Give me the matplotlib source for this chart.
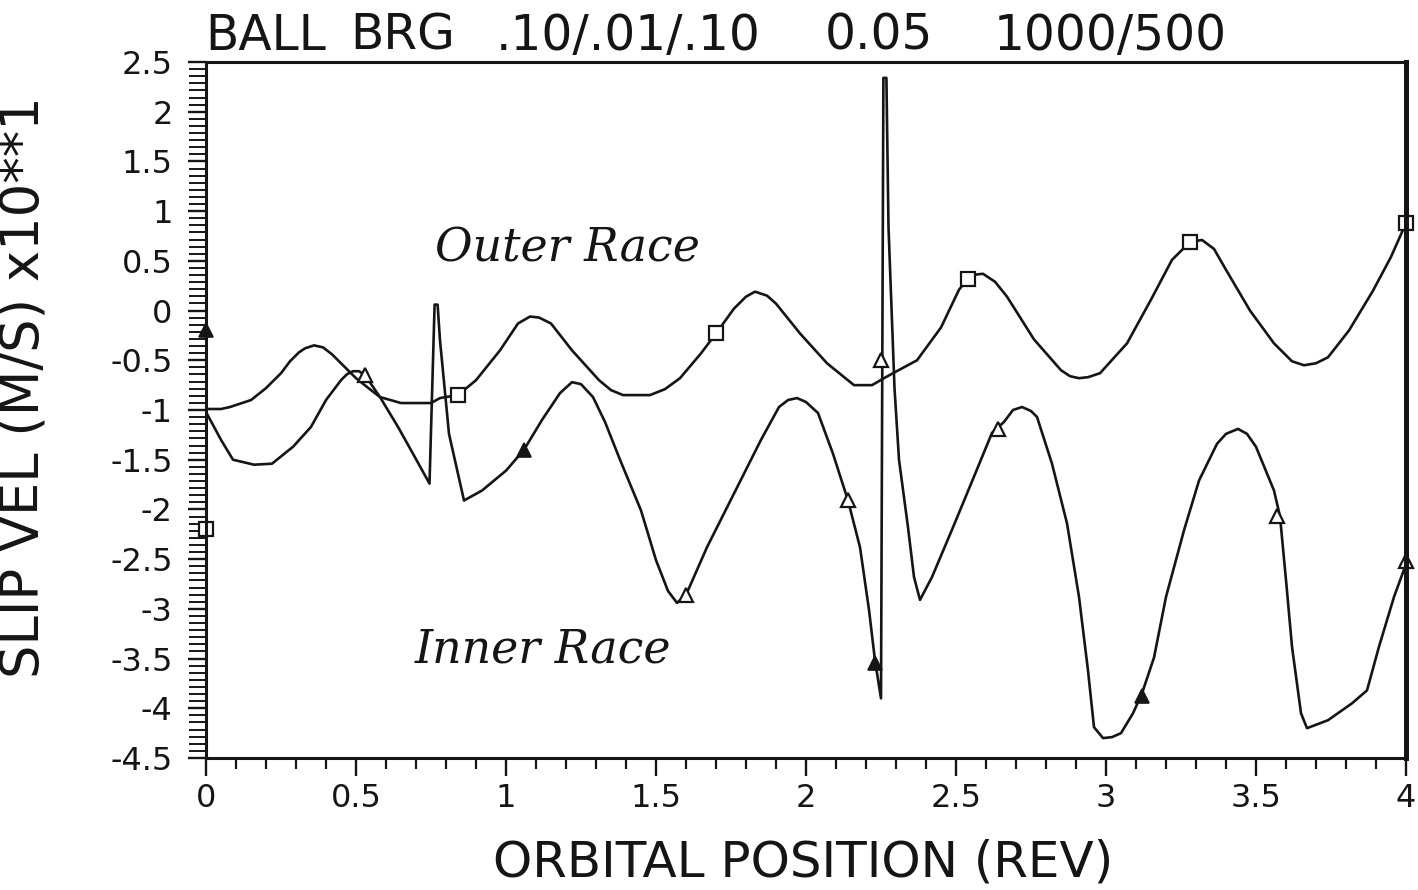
import matplotlib
matplotlib.use("Agg")
import matplotlib.pyplot as plt
from matplotlib.ticker import MultipleLocator, FuncFormatter

plt.rcParams['font.family'] = ['DejaVu Sans']
plt.rcParams['axes.unicode_minus'] = False

# Outer race slip velocity vs orbital position
outer_x = [0.00, 0.05, 0.08, 0.15, 0.20, 0.25, 0.28, 0.31, 0.33, 0.36, 0.39, 0.42,
           0.45, 0.50, 0.55, 0.58, 0.65, 0.70, 0.75, 0.78, 0.84, 0.90, 0.98, 1.04,
           1.08, 1.11, 1.15, 1.22, 1.31, 1.35, 1.39, 1.48, 1.53, 1.58, 1.65, 1.70,
           1.76, 1.80, 1.83, 1.87, 1.90, 1.98, 2.07, 2.16, 2.22, 2.26, 2.29, 2.37,
           2.45, 2.51, 2.54, 2.56, 2.59, 2.63, 2.67, 2.76, 2.85, 2.88, 2.91, 2.94,
           2.98, 3.07, 3.15, 3.22, 3.28, 3.32, 3.36, 3.40, 3.48, 3.56, 3.62, 3.66,
           3.70, 3.74, 3.81, 3.89, 3.95, 4.00]
outer_y = [-0.99, -0.99, -0.97, -0.90, -0.78, -0.63, -0.51, -0.42, -0.38, -0.35, -0.37, -0.44,
           -0.53, -0.68, -0.80, -0.87, -0.93, -0.93, -0.93, -0.88, -0.85, -0.70, -0.40, -0.13,
           -0.06, -0.07, -0.13, -0.40, -0.70, -0.80, -0.85, -0.85, -0.79, -0.68, -0.43, -0.23,
           0.02, 0.14, 0.19, 0.15, 0.07, -0.23, -0.53, -0.75, -0.75, -0.68, -0.63, -0.50,
           -0.17, 0.21, 0.32, 0.36, 0.37, 0.29, 0.14, -0.29, -0.60, -0.66, -0.68, -0.67,
           -0.63, -0.33, 0.11, 0.51, 0.69, 0.71, 0.62, 0.41, 0.00, -0.33, -0.51, -0.55,
           -0.53, -0.47, -0.20, 0.20, 0.54, 0.88]

# Inner race slip velocity vs orbital position
inner_x = [0.00, 0.05, 0.09, 0.16, 0.22, 0.29, 0.35, 0.40, 0.45, 0.47, 0.49, 0.51,
           0.53, 0.58, 0.64, 0.69, 0.745, 0.762, 0.772, 0.78, 0.81, 0.86, 0.92, 1.00,
           1.06, 1.12, 1.18, 1.22, 1.25, 1.29, 1.33, 1.38, 1.45, 1.50, 1.54, 1.57,
           1.60, 1.67, 1.76, 1.85, 1.91, 1.94, 1.97, 2.00, 2.04, 2.09, 2.14, 2.18,
           2.21, 2.23, 2.25, 2.258, 2.268, 2.275, 2.295, 2.31, 2.34, 2.36, 2.38, 2.42,
           2.49, 2.56, 2.62, 2.66, 2.69, 2.72, 2.75, 2.77, 2.82, 2.87, 2.91, 2.94,
           2.96, 2.99, 3.02, 3.05, 3.09, 3.12, 3.16, 3.20, 3.26, 3.31, 3.37, 3.40,
           3.44, 3.47, 3.50, 3.56, 3.58, 3.60, 3.62, 3.65, 3.67, 3.74, 3.82, 3.87,
           3.91, 3.96, 4.00]
inner_y = [-1.02, -1.30, -1.50, -1.55, -1.54, -1.37, -1.17, -0.90, -0.70, -0.64, -0.61, -0.61,
           -0.65, -0.87, -1.17, -1.44, -1.74, 0.06, 0.06, -0.30, -1.24, -1.91, -1.81, -1.61,
           -1.40, -1.10, -0.83, -0.72, -0.74, -0.87, -1.12, -1.50, -2.01, -2.51, -2.82, -2.94,
           -2.86, -2.38, -1.84, -1.30, -0.97, -0.90, -0.88, -0.92, -1.03, -1.44, -1.91, -2.38,
           -3.01, -3.52, -3.90, 2.34, 2.34, 0.84, -0.78, -1.50, -2.18, -2.68, -2.91, -2.68,
           -2.18, -1.67, -1.23, -1.12, -1.00, -0.97, -1.01, -1.07, -1.54, -2.14, -2.88, -3.62,
           -4.19, -4.30, -4.29, -4.25, -4.05, -3.85, -3.49, -2.88, -2.21, -1.71, -1.34, -1.24,
           -1.19, -1.24, -1.37, -1.81, -2.07, -2.71, -3.38, -4.05, -4.20, -4.12, -3.95, -3.82,
           -3.38, -2.88, -2.55]

# Plot symbols
square_x = [0.00, 0.84, 1.70, 2.54, 3.28, 4.00]
square_y = [-2.20, -0.85, -0.23, 0.32, 0.69, 0.88]
tri_open_x = [0.53, 1.60, 2.14, 2.25, 2.64, 3.57, 4.00]
tri_open_y = [-0.65, -2.86, -1.91, -0.50, -1.19, -2.07, -2.52]
tri_fill_x = [0.00, 1.06, 2.23, 3.12]
tri_fill_y = [-0.20, -1.40, -3.54, -3.88]

x_ticks = [0, 0.5, 1, 1.5, 2, 2.5, 3, 3.5, 4]
y_ticks = [-4.5, -4, -3.5, -3, -2.5, -2, -1.5, -1, -0.5, 0, 0.5, 1, 1.5, 2, 2.5]

# Header groups and their horizontal anchors (figure pixels)
title_words = ['BALL', 'BRG', '.10/.01/.10', '0.05', '1000/500']
title_anchor = [(205, 'left'), (403, 'center'), (628, 'center'), (879, 'center'), (1110, 'center')]

ink = '#151515'
W, H = 1418, 890

fig = plt.figure(figsize=(W / 100, H / 100), dpi=100)
ax = fig.add_axes([206 / W, 132 / H, 1200 / W, 696 / H])

ax.plot(outer_x, outer_y, color=ink, lw=1.9, solid_joinstyle='round')
ax.plot(inner_x, inner_y, color=ink, lw=1.9, solid_joinstyle='round')

ax.plot(square_x, square_y, ls='none', marker='s', ms=10, mfc='white',
        mec=ink, mew=1.6, clip_on=False)
ax.plot(tri_open_x, tri_open_y, ls='none', marker='^', ms=10, mfc='white',
        mec=ink, mew=1.6, clip_on=False)
ax.plot(tri_fill_x, tri_fill_y, ls='none', marker='^', ms=10, mfc=ink,
        mec=ink, mew=1.2, clip_on=False)

ax.set_xlim(0, 4)
ax.set_ylim(-4.5, 2.5)
ax.set_xticks(x_ticks)
ax.set_yticks(y_ticks)
fmt = FuncFormatter(lambda v, p: '%g' % v)
ax.xaxis.set_major_formatter(fmt)
ax.yaxis.set_major_formatter(fmt)
ax.xaxis.set_minor_locator(MultipleLocator(0.1))
ax.yaxis.set_minor_locator(MultipleLocator(0.5 / 7))

ax.tick_params(axis='x', which='major', direction='out', length=13, width=1.7,
               labelsize=23, pad=5, colors=ink)
ax.tick_params(axis='x', which='minor', direction='out', length=8, width=1.6, colors=ink)
ax.tick_params(axis='y', which='major', direction='out', length=13, width=1.7,
               labelsize=23, pad=11, colors=ink)
ax.tick_params(axis='y', which='minor', direction='out', length=12, width=1.4, colors=ink)

for side in ['left', 'bottom', 'top']:
    ax.spines[side].set_linewidth(2.2)
    ax.spines[side].set_color(ink)
ax.spines['right'].set_linewidth(3.6)
ax.spines['right'].set_color(ink)

ax.set_xlabel('ORBITAL POSITION (REV)', fontsize=36, color=ink)
ax.xaxis.set_label_coords(0.498, -0.116)
ax.set_ylabel('SLIP VEL (M/S) x10**1', fontsize=38, color=ink)
ax.yaxis.set_label_coords(-0.13, 0.533)

for word, (px, ha) in zip(title_words, title_anchor):
    fig.text(px / W, 1 - 50 / H, word, fontsize=35, color=ink,
             va='baseline', ha=ha)

ax.text(0.763, 0.49, 'Outer Race', fontsize=33, family='DejaVu Serif',
        style='italic', color=ink, va='baseline')
ax.text(0.697, -3.54, 'Inner Race', fontsize=33, family='DejaVu Serif',
        style='italic', color=ink, va='baseline')

fig.savefig('out.png', dpi=100, facecolor='white')
